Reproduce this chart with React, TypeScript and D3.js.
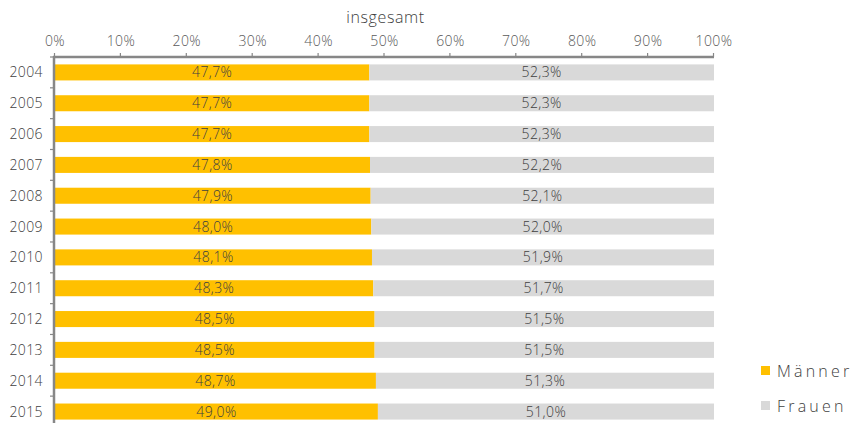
import React, { useEffect, useRef } from "react";
import * as d3 from "d3";

const years = ["2004","2005","2006","2007","2008","2009","2010","2011","2012","2013","2014","2015"];
const maenner = [47.7,47.7,47.7,47.8,47.9,48.0,48.1,48.3,48.5,48.5,48.7,49.0];
const frauen = [52.3,52.3,52.3,52.2,52.1,52.0,51.9,51.7,51.5,51.5,51.3,51.0];
const xTicks = [0,10,20,30,40,50,60,70,80,90,100];
const seriesNames = ["Männer","Frauen"];
const seriesColors = ["#FFC000","#D9D9D9"];
const title = "insgesamt";

const W = 855, H = 423;
const FONT = "'Open Sans', 'Noto Sans', sans-serif";

export default function App() {
  const ref = useRef<SVGSVGElement>(null);
  useEffect(() => {
    const svg = d3.select(ref.current!);
    svg.selectAll("*").remove();
    const x = d3.scaleLinear().domain([0, 100]).range([55, 714]);
    const y0 = 57;
    const step = 30.83;
    const y = d3.scaleBand<string>().domain(years).range([y0, y0 + step * years.length]).paddingInner(0.48).paddingOuter(0.24);
    const fmt = (v: number) => v.toFixed(1).replace(".", ",") + "%";
    const textColor = "#404040";
    const FW = 300;

    // bars
    const rows = svg.append("g").selectAll("g").data(years).join("g");
    rows.append("rect")
      .attr("x", x(0))
      .attr("y", d => y(d)!)
      .attr("width", (d, i) => x(maenner[i]) - x(0))
      .attr("height", y.bandwidth())
      .attr("fill", seriesColors[0]);
    rows.append("rect")
      .attr("x", (d, i) => x(maenner[i]))
      .attr("y", d => y(d)!)
      .attr("width", (d, i) => x(maenner[i] + frauen[i]) - x(maenner[i]))
      .attr("height", y.bandwidth())
      .attr("fill", seriesColors[1]);
    const labelAttrs = (sel: any) => sel
      .attr("y", (d: string) => y(d)! + y.bandwidth() / 2)
      .attr("dy", "0.36em")
      .attr("text-anchor", "middle")
      .attr("font-family", FONT)
      .attr("font-size", 14)
      .attr("font-weight", FW)
      .attr("letter-spacing", 0.4)
      .attr("fill", textColor);
    rows.append("text")
      .call(labelAttrs)
      .attr("x", (d, i) => (x(0) + x(maenner[i])) / 2)
      .text((d, i) => fmt(maenner[i]));
    rows.append("text")
      .call(labelAttrs)
      .attr("x", (d, i) => (x(maenner[i]) + x(maenner[i] + frauen[i])) / 2)
      .text((d, i) => fmt(frauen[i]));

    // year labels
    svg.append("g").selectAll("text").data(years).join("text")
      .attr("x", 43)
      .attr("y", d => y(d)! + y.bandwidth() / 2)
      .attr("dy", "0.36em")
      .attr("text-anchor", "end")
      .attr("font-family", FONT)
      .attr("font-size", 14)
      .attr("font-weight", FW)
      .attr("letter-spacing", 0.4)
      .attr("fill", textColor)
      .text(d => d);

    const axisColor = "#878787";
    // top axis
    svg.append("line").attr("x1", 53).attr("x2", x(100)).attr("y1", y0).attr("y2", y0)
      .attr("stroke", axisColor).attr("stroke-width", 2.5);
    svg.append("g").selectAll("line").data(xTicks).join("line")
      .attr("x1", d => x(d) - 0.5).attr("x2", d => x(d) - 0.5)
      .attr("y1", y0).attr("y2", y0 - 4)
      .attr("stroke", axisColor).attr("stroke-width", 1.2);
    svg.append("g").selectAll("text").data(xTicks).join("text")
      .attr("x", d => x(d))
      .attr("y", 46)
      .attr("text-anchor", "middle")
      .attr("font-family", FONT)
      .attr("font-size", 14)
      .attr("font-weight", FW)
      .attr("letter-spacing", 0.4)
      .attr("fill", "#595959")
      .text(d => d + "%");

    // left axis
    svg.append("line").attr("x1", 54).attr("x2", 54).attr("y1", y0 - 1).attr("y2", H)
      .attr("stroke", axisColor).attr("stroke-width", 2.5);
    const bounds = d3.range(years.length + 1).map(i => y0 + i * y.step());
    svg.append("g").selectAll("line").data(bounds).join("line")
      .attr("x1", 50).attr("x2", 54)
      .attr("y1", d => d).attr("y2", d => d)
      .attr("stroke", axisColor).attr("stroke-width", 1.2);

    // title
    svg.append("text")
      .attr("x", (x(0) + x(100)) / 2 + 1)
      .attr("y", 23)
      .attr("text-anchor", "middle")
      .attr("font-family", FONT)
      .attr("font-size", 16)
      .attr("font-weight", FW)
      .attr("letter-spacing", 0.6)
      .attr("fill", textColor)
      .text(title);

    // legend
    const lg = svg.append("g").selectAll("g").data(seriesNames).join("g")
      .attr("transform", (d, i) => `translate(761, ${366 + i * 35})`);
    lg.append("rect").attr("width", 9).attr("height", 9).attr("fill", (d, i) => seriesColors[i]);
    lg.append("text")
      .attr("x", 16).attr("y", 4.5).attr("dy", "0.38em")
      .attr("font-family", FONT)
      .attr("font-size", 16)
      .attr("font-weight", FW)
      .attr("letter-spacing", 3.2)
      .attr("fill", textColor)
      .text(d => d);
  }, []);
  return (
    <svg ref={ref} width={W} height={H} style={{ position: "absolute", left: 0, top: 0, background: "#fff" }} />
  );
}
